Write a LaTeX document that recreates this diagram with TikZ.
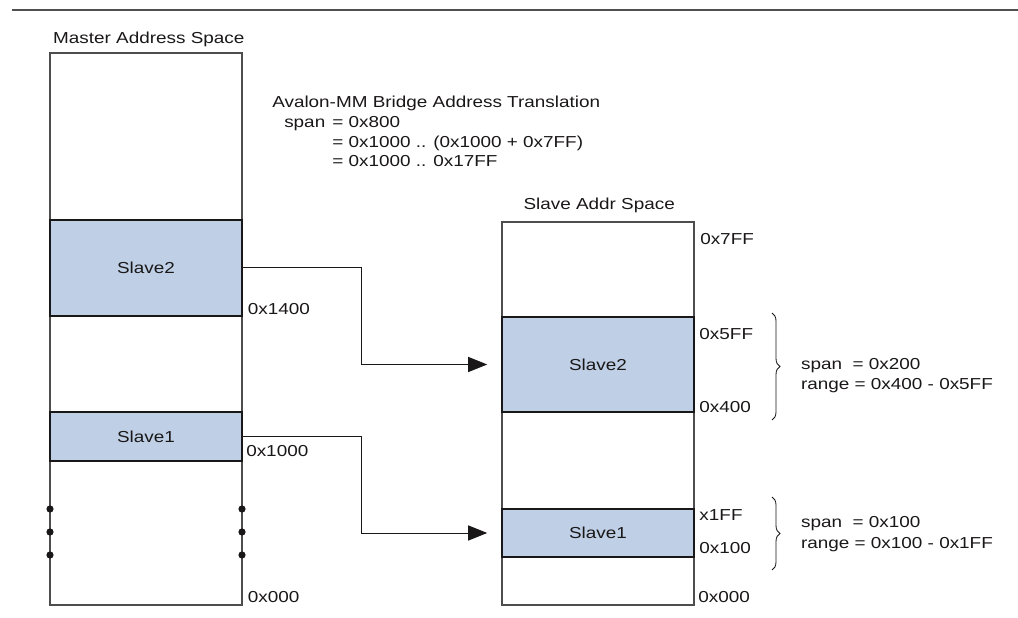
\documentclass[tikz,border=0pt]{standalone}
\usepackage{fontspec}
\setmainfont{Liberation Sans}[FakeStretch=1.19]
\usetikzlibrary{arrows.meta,positioning,calc,decorations.pathreplacing}
\definecolor{BoxGrey}{HTML}{4D4D4D}
\definecolor{RuleGrey}{HTML}{505050}
\definecolor{SlaveBlue}{HTML}{BFD0E6}
\definecolor{InkBlack}{HTML}{1A1718}

\tikzset{
  addrtext/.style={font=\fontsize{11.3}{13}\selectfont, text=InkBlack, inner sep=0pt},
  hexlabel/.style={addrtext, anchor=base west},
  addrspace/.style={draw=BoxGrey, line width=1.1pt, minimum width=4.8cm, inner sep=0pt},
  region/.style={addrspace, addrtext, fill=SlaveBlue, draw=InkBlack},
  maparrow/.style={draw=InkBlack, line width=0.7pt, -{Triangle[length=0.48cm,width=0.38cm]}, shorten >=0.35cm},
  curly/.style={draw=InkBlack, line width=0.6pt, decorate, decoration={brace, amplitude=0.2cm}}
}

\begin{document}
\begin{tikzpicture}
    \useasboundingbox (0,0) rectangle (25.45,15.45);
    \draw[RuleGrey, line width=1.8pt] (0.3,15.2) -- (25.45,15.2);

    % master side
    \node[addrspace, minimum height=13.8cm] (mas) at (3.65,7.225) {};
    \node[addrtext, anchor=base] (mastitle) at (3.72,14.37) {Master Address Space};
    \node[region, minimum height=2.4cm] (mas2) at (3.65,8.75) {Slave2};
    \node[region, minimum height=1.225cm] (mas1) at (3.65,4.5375) {Slave1};
    \foreach \y in {2.725,2.15,1.575} {
      \fill[InkBlack] (1.25,\y) circle (0.09);
      \fill[InkBlack] (6.05,\y) circle (0.09);
    }
    \node[hexlabel] (m1400) at (6.19,7.575) {0x1400};
    \node[hexlabel] (m1000) at (6.15,4.0325) {0x1000};
    \node[hexlabel] (m000) at (6.19,0.375) {0x000};

    % bridge note
    \node[hexlabel] (note) at (6.8,12.75) {Avalon-MM Bridge Address Translation};
    \node[hexlabel] (notespan) at (7.1,12.26) {span};
    \node[hexlabel] (noteeq1) at (8.3,12.26) {= 0x800};
    \node[hexlabel] (noteeq2) at (8.3,11.77) {= 0x1000 .. (0x1000 + 0x7FF)};
    \node[hexlabel] (noteeq3) at (8.3,11.28) {= 0x1000 .. 0x17FF};

    % slave side
    \node[addrspace, minimum height=9.575cm] (slv) at (14.95,5.1125) {};
    \node[addrtext, anchor=base] (slvtitle) at (14.98,10.2) {Slave Addr Space};
    \node[region, minimum height=2.375cm] (slv2) at (14.95,6.3375) {Slave2};
    \node[region, minimum height=1.2cm] (slv1) at (14.95,2.125) {Slave1};
    \node[hexlabel] (s7ff) at (17.5,9.325) {0x7FF};
    \node[hexlabel] (s5ff) at (17.48,6.95) {0x5FF};
    \node[hexlabel] (s400) at (17.48,5.125) {0x400};
    \node[hexlabel] (s1ff) at (17.48,2.43) {x1FF};
    \node[hexlabel] (s100) at (17.48,1.6) {0x100};
    \node[hexlabel] (s000) at (17.45,0.375) {0x000};

    % mapping
    \draw[maparrow] (mas2.east) -- ++(2.975,0) |- (slv2.west);
    \draw[maparrow] (mas1.east) -- ++(2.975,0) |- (slv1.west);

    \draw[curly] (19.3,7.625) -- (19.3,4.95);
    \draw[curly] (19.3,3.025) -- (19.3,1.2);
    \node[hexlabel] (span2) at (20.02,6.2) {span\ \ = 0x200};
    \node[hexlabel] (range2) at (20.02,5.7) {range = 0x400 - 0x5FF};
    \node[hexlabel] (span1) at (20.02,2.25) {span\ \ = 0x100};
    \node[hexlabel] (range1) at (20.02,1.725) {range = 0x100 - 0x1FF};
  \end{tikzpicture}
\end{document}
